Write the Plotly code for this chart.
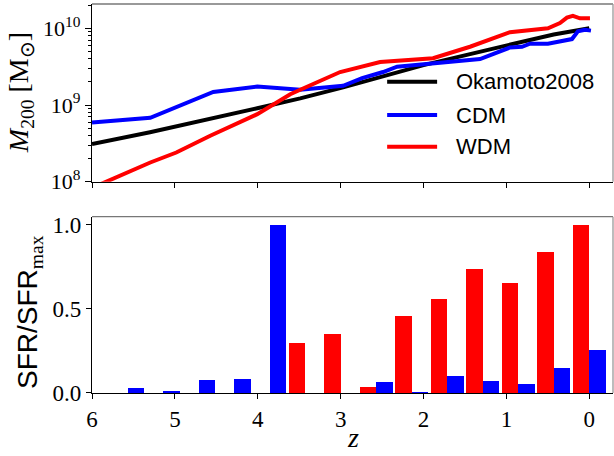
import plotly.graph_objects as go

# ---------------- data ----------------
# Top panel: halo mass growth M200(z)
z_okamoto = [6.0, 5.30, 4.006, 3.488, 2.97, 2.00, 0.98, 0.43, 0.0]
m_okamoto = [3.09e8, 4.41e8, 9.06e8, 1.22e9, 1.70e9, 3.31e9, 6.03e9, 8.32e9, 1.0e10]

z_cdm = [6.0, 5.297, 4.537, 4.006, 3.488, 2.970, 2.741, 2.488, 2.319, 2.042,
         1.837, 1.318, 0.957, 0.812, 0.716, 0.499, 0.209, 0.137, 0.053, -0.02]
m_cdm = [5.89e8, 6.82e8, 1.48e9, 1.74e9, 1.58e9, 1.78e9, 2.24e9, 2.69e9, 3.16e9, 3.39e9,
         3.55e9, 3.98e9, 5.62e9, 5.75e9, 6.31e9, 6.31e9, 7.24e9, 9.12e9, 9.55e9, 9.33e9]

z_wdm = [6.0, 5.828, 5.297, 4.983, 4.573, 4.006, 3.608, 3.488, 3.367, 3.006,
         2.524, 1.885, 1.439, 1.198, 0.957, 0.499, 0.354, 0.270, 0.198, 0.113, -0.008]
m_wdm = [8.3e7, 1.0e8, 1.78e8, 2.40e8, 3.98e8, 7.59e8, 1.38e9, 1.58e9, 1.82e9, 2.69e9,
         3.63e9, 4.07e9, 5.75e9, 7.08e9, 8.91e9, 1.0e10, 1.17e10, 1.38e10, 1.45e10, 1.35e10, 1.35e10]

# Bottom panel: normalised star formation rate per redshift bin
z_bins = [0.0, 0.4286, 0.8571, 1.2857, 1.7143, 2.1429, 2.5714, 3.0,
          3.4286, 3.8571, 4.2857, 4.7143, 5.1429, 5.5714, 6.0]
sfr_wdm = [1.0, 0.84, 0.655, 0.739, 0.56, 0.46, 0.037, 0.352,
           0.299, 0.0, 0.0, 0.0, 0.0, 0.0, 0.0]
sfr_cdm = [0.257, 0.15, 0.055, 0.073, 0.103, 0.008, 0.067, 0.0,
           0.0, 1.0, 0.085, 0.079, 0.014, 0.032, 0.0]

x_ticks = [6, 5, 4, 3, 2, 1, 0]
x_ticktext = ["6", "5", "4", "3", "2", "1", "0"]
sfr_ticks = [0.0, 0.5, 1.0]
sfr_ticktext = ["0.0", "0.5", "1.0"]
mass_ticks = [1e8, 1e9, 1e10]
mass_ticktext = ["10<sup>8</sup>", "10<sup>9</sup>", "10<sup>10</sup>"]
mass_minor = [2e8, 3e8, 4e8, 5e8, 6e8, 7e8, 8e8, 9e8,
              2e9, 3e9, 4e9, 5e9, 6e9, 7e9, 8e9, 9e9, 2e10]

names = ["Okamoto2008", "CDM", "WDM"]
colors = ["#000000", "#0000ff", "#ff0000"]

SERIF = "Liberation Serif, Times New Roman, serif"
SANS = "Liberation Sans, Arial, sans-serif"

fig = go.Figure()

for zs, ms, nm, col in [(z_okamoto, m_okamoto, names[0], colors[0]),
                        (z_cdm, m_cdm, names[1], colors[1]),
                        (z_wdm, m_wdm, names[2], colors[2])]:
    fig.add_trace(go.Scatter(x=zs, y=ms, mode="lines", name=nm,
                             line=dict(color=col, width=4),
                             xaxis="x", yaxis="y", showlegend=False))

# invisible trace to carry the minor-tick overlay axis
fig.add_trace(go.Scatter(x=[None], y=[None], mode="lines", xaxis="x", yaxis="y3",
                         showlegend=False, hoverinfo="skip"))

fig.add_trace(go.Bar(x=z_bins, y=sfr_wdm, width=0.2, offset=0.0,
                     marker=dict(color=colors[2], line=dict(width=0)),
                     xaxis="x2", yaxis="y2", showlegend=False, name="WDM SFR"))
fig.add_trace(go.Bar(x=z_bins, y=sfr_cdm, width=0.2, offset=-0.2,
                     marker=dict(color=colors[1], line=dict(width=0)),
                     xaxis="x2", yaxis="y2", showlegend=False, name="CDM SFR"))

xr = [6, -0.286]
tickfont_x = dict(family=SERIF, size=23, color="black")
common_x = dict(range=xr, tickmode="array", tickvals=x_ticks, ticktext=x_ticktext, ticks="outside",
                ticklen=5, tickwidth=1.3, tickcolor="black", showline=True,
                linecolor="black", linewidth=1.3, showgrid=False, zeroline=False,
                automargin=False)

fig.update_layout(
    width=614, height=456,
    margin=dict(l=92, r=1, t=4, b=63),
    paper_bgcolor="white", plot_bgcolor="white",
    barmode="overlay", bargap=0,
    font=dict(family=SERIF, color="black"),
    xaxis=dict(domain=[0, 1], anchor="y", showticklabels=False, **common_x),
    yaxis=dict(domain=[0.5432, 1], anchor="x", type="log", range=[8, 10.317],
               tickmode="array", tickvals=mass_ticks, ticktext=mass_ticktext,
               ticks="outside", ticklen=6, tickwidth=1.3, tickcolor="black",
               showline=True, linecolor="black", linewidth=1.3, showgrid=False,
               zeroline=False, automargin=False,
               tickfont=dict(family=SERIF, size=22, color="black")),
    yaxis3=dict(domain=[0.5432, 1], anchor="x", overlaying="y", side="left",
                type="log", range=[8, 10.317],
                tickmode="array", tickvals=mass_minor, ticktext=[""] * len(mass_minor),
                ticks="outside", ticklen=3.5, tickwidth=1, tickcolor="black",
                showline=False, showgrid=False, zeroline=False, automargin=False,
                showticklabels=False),
    xaxis2=dict(domain=[0, 1], anchor="y2", tickfont=tickfont_x, **common_x),
    yaxis2=dict(domain=[0, 0.4532], anchor="x2", range=[0, 1.049],
                tickmode="array", tickvals=sfr_ticks, ticktext=sfr_ticktext,
                ticks="outside", ticklen=5, tickwidth=1.3, tickcolor="black",
                showline=True, linecolor="black", linewidth=1.3, showgrid=False,
                zeroline=False, automargin=False,
                tickfont=dict(family=SERIF, size=23, color="black")),
)

# gray top/right frame lines (matplotlib-like box)
for xa, ya in [("x", "y"), ("x2", "y2")]:
    fig.add_shape(type="line", xref=f"{xa} domain", yref=f"{ya} domain",
                  x0=0, x1=1, y0=1, y1=1, line=dict(color="#777777", width=1.3))
    fig.add_shape(type="line", xref=f"{xa} domain", yref=f"{ya} domain",
                  x0=1, x1=1, y0=0, y1=1, line=dict(color="#999999", width=1.3))

# legend (manual, matplotlib style, no frame)
leg_y = [0.563, 0.375, 0.197]
for nm, col, yy in zip(names, colors, leg_y):
    fig.add_shape(type="line", xref="x domain", yref="y domain",
                  x0=0.5665, x1=0.6624, y0=yy, y1=yy, line=dict(color=col, width=4))
    fig.add_annotation(xref="x domain", yref="y domain", x=0.695, y=yy,
                       xanchor="left", yanchor="middle", text=nm, showarrow=False,
                       font=dict(family=SANS, size=22, color="black"))

# axis titles
fig.add_annotation(xref="paper", yref="paper", x=-0.138, y=0.771,
                   text="<i>M</i><sub>200</sub> [M<sub>⊙</sub>]", textangle=-90,
                   showarrow=False, xanchor="center", yanchor="middle",
                   font=dict(family=SERIF, size=28, color="black"))
fig.add_annotation(xref="paper", yref="paper", x=-0.121, y=0.208,
                   text="SFR/SFR<sub><span style='font-family:Liberation Serif'>max</span></sub>",
                   textangle=-90, showarrow=False, xanchor="center", yanchor="middle",
                   font=dict(family=SANS, size=28, color="black"))
fig.add_annotation(xref="paper", yref="paper", x=0.5, y=-0.160,
                   text="<i>z</i>", showarrow=False, xanchor="center", yanchor="bottom",
                   font=dict(family=SERIF, size=28, color="black"))

fig.write_html("out.html")
